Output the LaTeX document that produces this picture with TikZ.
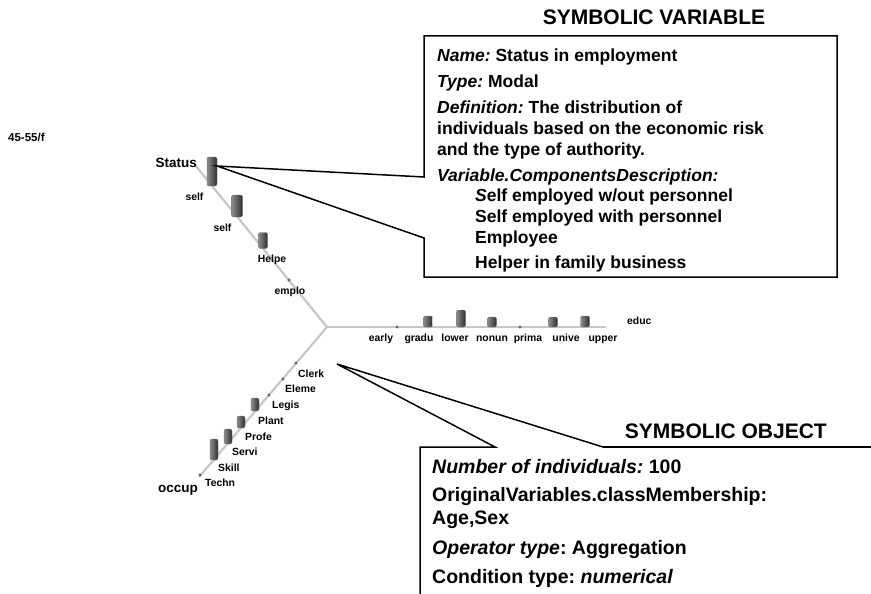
\documentclass[tikz,border=0pt]{standalone}
\usepackage{fontspec}
\setmainfont{Liberation Sans}
\frenchspacing
\begin{document}
\begin{tikzpicture}[x=1pt,y=-1pt,
  axis/.style={draw=black!22, line width=2.2pt},
  bar/.style={rounded corners=2pt, left color=black!45, right color=black!82, draw=black!55, line width=0.4pt},
  dotmark/.style={fill=black!60, draw=none},
  lab/.style={font=\fontsize{10.4}{12}\selectfont\bfseries, inner sep=0pt},
  big/.style={font=\fontsize{13.5}{15}\selectfont\bfseries, inner sep=0pt},
  title/.style={font=\fontsize{21}{24}\selectfont\bfseries, inner sep=0pt, anchor=base},
  sv/.style={font=\fontsize{17.5}{20}\selectfont\bfseries, inner sep=0pt, anchor=base west},
  so/.style={font=\fontsize{19.5}{22}\selectfont\bfseries, inner sep=0pt, anchor=base west},
  callout/.style={draw=black, line width=1.5pt, line join=miter},
]
\newcommand{\colbar}[4]{\path[bar] (#1-#3/2,#2) rectangle (#1+#3/2,#2-#4);}
\useasboundingbox (0,0) rectangle (871,594);

% ---------- star of three axes ----------
\coordinate (c) at (327,327);
\coordinate (ustatus) at (195,165);
\coordinate (reduc) at (606,327);
\coordinate (loccup) at (199,477);
\draw[axis] (c) -- (ustatus);
\draw[axis] (c) -- (reduc);
\draw[axis] (c) -- (loccup);

% Status axis
\colbar{212}{186}{10}{29}
\colbar{237}{217}{11}{22}
\colbar{263}{248.5}{9}{16}
\fill[dotmark] (289,280) circle (1.6);
\node[big, anchor=base east] (nstatus) at (197,167) {Status};
\node[lab, anchor=base] (s1) at (194.5,200) {self};
\node[lab, anchor=base] (s2) at (222.5,231) {self};
\node[lab, anchor=base] (s3) at (272,262) {Helpe};
\node[lab, anchor=base] (s4) at (290,294) {emplo};

% educ axis
\fill[dotmark] (397,327) circle (1.6);
\colbar{428}{327}{9}{11}
\colbar{461}{327}{9}{17}
\colbar{492}{327}{9}{10}
\fill[dotmark] (520,327) circle (1.6);
\colbar{553}{327}{9}{10}
\colbar{585}{327}{9}{11}
\node[lab, anchor=base] (e1) at (381,341) {early};
\node[lab, anchor=base] (e2) at (419,341) {gradu};
\node[lab, anchor=base] (e3) at (455,341) {lower};
\node[lab, anchor=base] (e4) at (492,341) {nonun};
\node[lab, anchor=base] (e5) at (528,341) {prima};
\node[lab, anchor=base] (e6) at (566,341) {unive};
\node[lab, anchor=base] (e7) at (603,341) {upper};
\node[lab, anchor=base west] (neduc) at (627,324) {educ};

% occup axis
\fill[dotmark] (296,363) circle (1.6);
\fill[dotmark] (283,379) circle (1.6);
\fill[dotmark] (269,395) circle (1.6);
\colbar{255}{411}{8}{13}
\colbar{241}{428}{8}{12}
\colbar{228}{444}{8}{15}
\colbar{214}{460}{8}{21}
\fill[dotmark] (200,475) circle (1.6);
\node[lab, anchor=base west] (o1) at (298,377) {Clerk};
\node[lab, anchor=base west] (o2) at (285,392) {Eleme};
\node[lab, anchor=base west] (o3) at (272,408) {Legis};
\node[lab, anchor=base west] (o4) at (258,424) {Plant};
\node[lab, anchor=base west] (o5) at (245,440) {Profe};
\node[lab, anchor=base west] (o6) at (232,455) {Servi};
\node[lab, anchor=base west] (o7) at (218,471) {Skill};
\node[lab, anchor=base west] (o8) at (205,486) {Techn};
\node[big, anchor=base east] (noccup) at (198,492) {occup};

\node[lab, font=\fontsize{11.5}{13}\selectfont\bfseries, anchor=base west] (ngroup) at (8,142) {45-55/f};

% ---------- symbolic variable callout ----------
\coordinate (vtip) at (217,166);
\coordinate (va) at (424,177);
\coordinate (vb) at (424,238);
\draw[callout] (vtip) -- (va) -- (424,36) -- (837,36) -- (837,277) -- (424,277) -- (vb) -- cycle;
\node[title] (svtitle) at (654,24.5) {SYMBOLIC VARIABLE};
\node[sv] (v1) at (437,61.5) {{\itshape Name:} Status in employment};
\node[sv] (v2) at (437,87.5) {{\itshape Type:} Modal};
\node[sv] (v3) at (437,113.5) {{\itshape Definition:} The distribution of};
\node[sv] (v4) at (437,134.5) {individuals based on the economic risk};
\node[sv] (v5) at (437,155.5) {and the type of authority.};
\node[sv] (v6) at (437,181.5) {{\itshape Variable.ComponentsDescription:}};
\node[sv] (v7) at (475,201.5) {{\itshape S}elf employed w/out personnel};
\node[sv] (v8) at (475,222) {Self employed with personnel};
\node[sv] (v9) at (475,243.5) {Employee};
\node[sv] (v10) at (475,268.5) {Helper in family business};

% ---------- symbolic object callout ----------
\coordinate (otip) at (337,364);
\coordinate (oa) at (495,447);
\coordinate (ob) at (603,447);
\draw[callout] (ob) -- (otip) -- (oa) -- (420,447) -- (420,600);
\draw[callout] (ob) -- (880,447);
\node[title, anchor=base east] (sotitle) at (827,438) {SYMBOLIC OBJECT};
\node[so] (w1) at (432,473) {{\itshape Number of individuals:} 100};
\node[so] (w2) at (432,501) {OriginalVariables.classMembership:};
\node[so] (w3) at (432,524) {Age,Sex};
\node[so] (w4) at (432,554) {{\itshape Operator type}: Aggregation};
\node[so] (w5) at (432,583) {Condition type: {\itshape numerical}};
\end{tikzpicture}
\end{document}
